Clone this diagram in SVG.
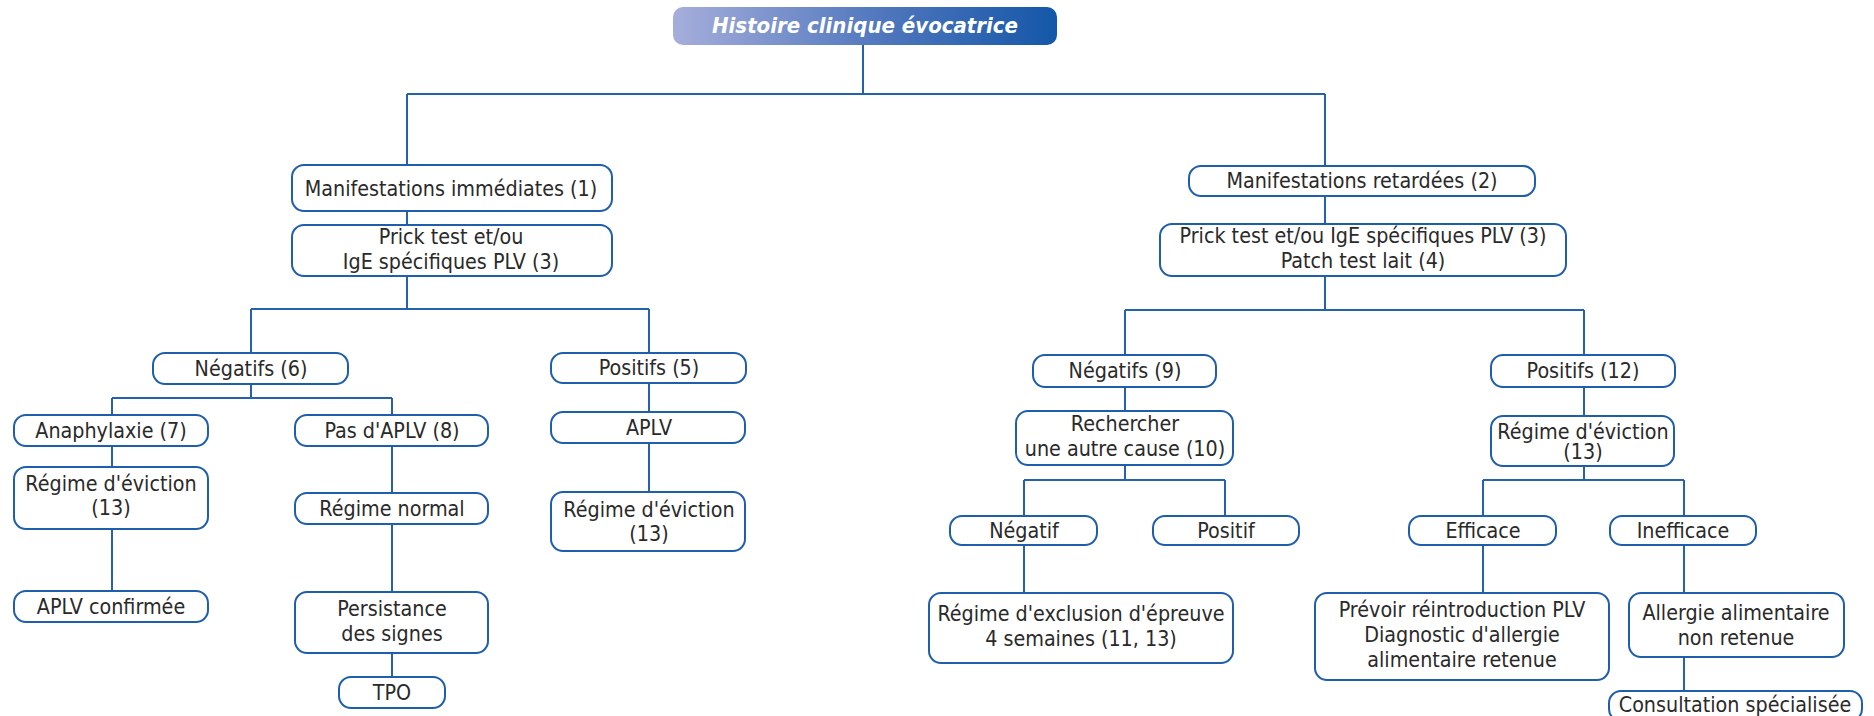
<svg xmlns="http://www.w3.org/2000/svg" width="1874" height="716" viewBox="0 0 1874 716">
<defs>
<linearGradient id="tg" x1="0" y1="0" x2="1" y2="0">
<stop offset="0" stop-color="#a6aedb"/>
<stop offset="0.55" stop-color="#4f76bd"/>
<stop offset="1" stop-color="#1457a8"/>
</linearGradient>
</defs>
<style>
.b{fill:#fff;stroke:#1f5eab;stroke-width:2}
.t{font-family:"DejaVu Sans Condensed","DejaVu Sans",sans-serif;font-size:21.3px;fill:#2a2a2a;text-anchor:middle}
.c{fill:none;stroke:#2462ae;stroke-width:2}
.h{font-family:"DejaVu Sans Condensed","DejaVu Sans",sans-serif;font-size:22px;font-weight:bold;font-style:italic;fill:#fff;text-anchor:middle}
</style>
<rect width="1874" height="716" fill="#fff"/>
<g id="connectors">
<path class="c" d="M863,45V94M407,94H1325M407,94V165M1325,94V166"/>
<path class="c" d="M407,211V225M407,276V309M251,309H649M251,309V353M649,309V353"/>
<path class="c" d="M251,384V398M112,398H392M112,398V415M392,398V415"/>
<path class="c" d="M112,446V467M112,529V591"/>
<path class="c" d="M392,446V493M392,524V592M392,653V677"/>
<path class="c" d="M649,383V412M649,443V492"/>
<path class="c" d="M1325,196V224M1325,276V310M1125,310H1584M1125,310V355M1584,310V355"/>
<path class="c" d="M1125,387V411M1125,465V480M1024,480H1225M1024,480V516M1225,480V516M1024,545V593"/>
<path class="c" d="M1584,387V416M1584,466V480M1483,480H1684M1483,480V516M1684,480V516M1483,545V593M1684,545V593M1684,657V691"/>
</g>
<g id="title"><rect x="673" y="7" width="384" height="38" rx="10" fill="url(#tg)"/><text class="h" x="865" y="33">Histoire clinique évocatrice</text></g>
<g id="mi"><rect class="b" x="292" y="165" width="320" height="46" rx="12"/><text class="t" x="451" y="196">Manifestations immédiates (1)</text></g>
<g id="pt1"><rect class="b" x="292" y="225" width="320" height="51" rx="12"/><text class="t" x="451" y="244">Prick test et/ou</text><text class="t" x="451" y="269">IgE spécifiques PLV (3)</text></g>
<g id="neg6"><rect class="b" x="153" y="353" width="195" height="31" rx="12"/><text class="t" x="251" y="376">Négatifs (6)</text></g>
<g id="pos5"><rect class="b" x="551" y="353" width="195" height="30" rx="12"/><text class="t" x="649" y="375">Positifs (5)</text></g>
<g id="ana"><rect class="b" x="14" y="415" width="194" height="31" rx="12"/><text class="t" x="111" y="438">Anaphylaxie (7)</text></g>
<g id="pas"><rect class="b" x="295" y="415" width="193" height="31" rx="12"/><text class="t" x="392" y="438">Pas d'APLV (8)</text></g>
<g id="aplv"><rect class="b" x="551" y="412" width="194" height="31" rx="12"/><text class="t" x="649" y="435">APLV</text></g>
<g id="reg1"><rect class="b" x="14" y="467" width="194" height="62" rx="12"/><text class="t" x="111" y="491">Régime d'éviction</text><text class="t" x="111" y="515">(13)</text></g>
<g id="regn"><rect class="b" x="295" y="493" width="193" height="31" rx="12"/><text class="t" x="392" y="516">Régime normal</text></g>
<g id="reg2"><rect class="b" x="551" y="492" width="194" height="59" rx="12"/><text class="t" x="649" y="517">Régime d'éviction</text><text class="t" x="649" y="541">(13)</text></g>
<g id="conf"><rect class="b" x="14" y="591" width="194" height="31" rx="12"/><text class="t" x="111" y="614">APLV confirmée</text></g>
<g id="pers"><rect class="b" x="295" y="592" width="193" height="61" rx="12"/><text class="t" x="392" y="616">Persistance</text><text class="t" x="392" y="641">des signes</text></g>
<g id="tpo"><rect class="b" x="339" y="677" width="106" height="31" rx="12"/><text class="t" x="392" y="700">TPO</text></g>
<g id="mr"><rect class="b" x="1189" y="166" width="346" height="30" rx="12"/><text class="t" x="1362" y="188">Manifestations retardées (2)</text></g>
<g id="pt2"><rect class="b" x="1160" y="224" width="406" height="52" rx="12"/><text class="t" x="1363" y="243">Prick test et/ou IgE spécifiques PLV (3)</text><text class="t" x="1363" y="268">Patch test lait (4)</text></g>
<g id="neg9"><rect class="b" x="1033" y="355" width="183" height="32" rx="12"/><text class="t" x="1125" y="378">Négatifs (9)</text></g>
<g id="pos12"><rect class="b" x="1491" y="355" width="184" height="32" rx="12"/><text class="t" x="1583" y="378">Positifs  (12)</text></g>
<g id="rech"><rect class="b" x="1016" y="411" width="217" height="54" rx="12"/><text class="t" x="1125" y="431">Rechercher</text><text class="t" x="1125" y="456">une autre cause (10)</text></g>
<g id="reg3"><rect class="b" x="1491" y="416" width="183" height="50" rx="12"/><text class="t" x="1583" y="439">Régime d'éviction</text><text class="t" x="1583" y="459">(13)</text></g>
<g id="negf"><rect class="b" x="950" y="516" width="147" height="29" rx="12"/><text class="t" x="1024" y="538">Négatif</text></g>
<g id="posf"><rect class="b" x="1153" y="516" width="146" height="29" rx="12"/><text class="t" x="1226" y="538">Positif</text></g>
<g id="eff"><rect class="b" x="1409" y="516" width="147" height="29" rx="12"/><text class="t" x="1483" y="538">Efficace</text></g>
<g id="ineff"><rect class="b" x="1610" y="516" width="146" height="29" rx="12"/><text class="t" x="1683" y="538">Inefficace</text></g>
<g id="excl"><rect class="b" x="929" y="593" width="304" height="70" rx="12"/><text class="t" x="1081" y="621">Régime d'exclusion d'épreuve</text><text class="t" x="1081" y="646">4 semaines  (11, 13)</text></g>
<g id="prev"><rect class="b" x="1315" y="593" width="294" height="87" rx="12"/><text class="t" x="1462" y="617">Prévoir réintroduction PLV</text><text class="t" x="1462" y="642">Diagnostic d'allergie</text><text class="t" x="1462" y="667">alimentaire retenue</text></g>
<g id="allg"><rect class="b" x="1629" y="593" width="215" height="64" rx="12"/><text class="t" x="1736" y="620">Allergie alimentaire</text><text class="t" x="1736" y="645">non retenue</text></g>
<g id="cons"><rect class="b" x="1609" y="691" width="253" height="30" rx="12"/><text class="t" x="1735" y="712">Consultation spécialisée</text></g>
</svg>
